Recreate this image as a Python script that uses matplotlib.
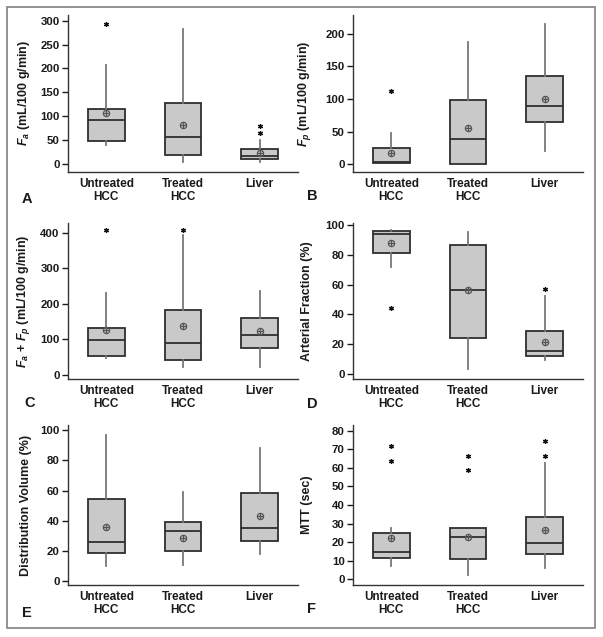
import matplotlib
matplotlib.use("Agg")
import matplotlib.pyplot as plt
from matplotlib.patches import Rectangle

plt.rcParams['font.family'] = ['Liberation Sans', 'DejaVu Sans']
plt.rcParams['font.weight'] = 'bold'
plt.rcParams['mathtext.fontset'] = 'custom'
plt.rcParams['mathtext.rm'] = 'Liberation Sans:bold'
plt.rcParams['mathtext.it'] = 'Liberation Sans:italic:bold'
plt.rcParams['mathtext.bf'] = 'Liberation Sans:bold'

categories = ["Untreated\nHCC", "Treated\nHCC", "Liver"]

# Panel A: Fa
a_low = [40, 4, 5]
a_q1 = [49, 19, 11]
a_med = [93, 57, 17]
a_q3 = [115, 128, 32]
a_high = [208, 283, 51]
a_mean = [107, 82, 23]
a_out = [[293], [], [64, 80]]

# Panel B: Fp
b_low = [1.5, 1, 20.5]
b_q1 = [1.5, 1, 64]
b_med = [3, 38, 90]
b_q3 = [24.5, 98, 135.5]
b_high = [48.6, 187, 215]
b_mean = [17, 55, 100]
b_out = [[113], [], []]

# Panel C: Fa + Fp
c_low = [47, 23, 23]
c_q1 = [54, 43, 76]
c_med = [99, 89, 113]
c_q3 = [132, 184, 160]
c_high = [231, 392, 235]
c_mean = [126, 139, 124]
c_out = [[407], [407], []]

# Panel D: Arterial fraction
d_low = [72, 3.3, 9]
d_q1 = [81, 24, 11.8]
d_med = [94, 56.7, 15.4]
d_q3 = [96, 86.8, 29]
d_high = [97, 95.5, 52.5]
d_mean = [88, 56.5, 21.6]
d_out = [[44], [], [57]]

# Panel E: Distribution volume
e_low = [9.9, 10.6, 18]
e_q1 = [18.9, 20.0, 26.9]
e_med = [25.8, 33, 35.2]
e_q3 = [54.6, 39.2, 58.6]
e_high = [96.7, 59, 88.5]
e_mean = [36, 28.4, 43.2]
e_out = [[], [], []]

# Panel F: MTT
f_low = [7.3, 2.3, 6.4]
f_q1 = [11.4, 11.1, 13.6]
f_med = [14.8, 22.9, 19.7]
f_q3 = [24.7, 27.9, 33.6]
f_high = [27.7, 27.9, 62.4]
f_mean = [22.5, 22.9, 26.3]
f_out = [[63.7, 71.6], [59, 66.5], [66.5, 74.4]]

W, H = 603, 637
fig = plt.figure(figsize=(W / 100, H / 100), dpi=100)

left_cols = [68, 353]
col_w = 230
rows = [(15, 172), (223, 379), (425, 585)]

panels = [
    dict(low=a_low, q1=a_q1, med=a_med, q3=a_q3, high=a_high, mean=a_mean, out=a_out,
         ylim=(-17, 312), yticks=[0, 50, 100, 150, 200, 250, 300],
         ylabel=r'$F_a$ (mL/100 g/min)', letter='A', pos=(0, 0)),
    dict(low=b_low, q1=b_q1, med=b_med, q3=b_q3, high=b_high, mean=b_mean, out=b_out,
         ylim=(-12, 229), yticks=[0, 50, 100, 150, 200],
         ylabel=r'$F_p$ (mL/100 g/min)', letter='B', pos=(0, 1)),
    dict(low=c_low, q1=c_q1, med=c_med, q3=c_q3, high=c_high, mean=c_mean, out=c_out,
         ylim=(-11, 427), yticks=[0, 100, 200, 300, 400],
         ylabel=r'$F_a$ + $F_p$ (mL/100 g/min)', letter='C', pos=(1, 0)),
    dict(low=d_low, q1=d_q1, med=d_med, q3=d_q3, high=d_high, mean=d_mean, out=d_out,
         ylim=(-3.5, 101.5), yticks=[0, 20, 40, 60, 80, 100],
         ylabel='Arterial Fraction (%)', letter='D', pos=(1, 1)),
    dict(low=e_low, q1=e_q1, med=e_med, q3=e_q3, high=e_high, mean=e_mean, out=e_out,
         ylim=(-2.5, 103.5), yticks=[0, 20, 40, 60, 80, 100],
         ylabel='Distribution Volume (%)', letter='E', pos=(2, 0)),
    dict(low=f_low, q1=f_q1, med=f_med, q3=f_q3, high=f_high, mean=f_mean, out=f_out,
         ylim=(-3, 83), yticks=[0, 10, 20, 30, 40, 50, 60, 70, 80],
         ylabel='MTT (sec)', letter='F', pos=(2, 1)),
]

letter_pos = {'A': (22, 203), 'B': (307, 200), 'C': (24, 407),
              'D': (307, 408), 'E': (22, 617), 'F': (307, 613)}

box_face = '#c9c9c9'
box_edge = '#2e2e2e'
whisk_col = '#777777'
mean_col = '#555555'

for p in panels:
    r, c = p['pos']
    top, bot = rows[r]
    x0 = left_cols[c]
    ax = fig.add_axes([x0 / W, 1 - bot / H, col_w / W, (bot - top) / H])
    stats = []
    for i in range(3):
        stats.append(dict(whislo=p['low'][i], q1=p['q1'][i], med=p['med'][i],
                          q3=p['q3'][i], whishi=p['high'][i], fliers=p['out'][i],
                          mean=p['mean'][i]))
    positions = [1, 2, 3]
    ax.bxp(stats, positions=positions, widths=0.48, patch_artist=True,
           showcaps=False, showmeans=False, showfliers=True,
           boxprops=dict(facecolor=box_face, edgecolor=box_edge, linewidth=1.3),
           whiskerprops=dict(color=whisk_col, linewidth=1.3),
           medianprops=dict(color=box_edge, linewidth=1.3),
           flierprops=dict(marker=(6, 2, 0), markerfacecolor='#111111',
                           markeredgecolor='#111111', markersize=3.6,
                           markeredgewidth=0.9))
    ax.plot(positions, p['mean'], linestyle='none', marker='o', markersize=4.5,
            markerfacecolor='none', markeredgecolor=mean_col, markeredgewidth=0.9, zorder=5)
    ax.plot(positions, p['mean'], linestyle='none', marker='+', markersize=4.5,
            markeredgecolor=mean_col, markeredgewidth=0.9, zorder=5)
    ax.set_xlim(0.5, 3.5)
    ax.set_ylim(*p['ylim'])
    ax.set_yticks(p['yticks'])
    ax.set_xticks(positions)
    ax.set_xticklabels(categories, fontsize=8.5, fontweight='bold')
    ax.tick_params(axis='x', length=0, pad=4, colors='#1a1a1a')
    ax.tick_params(axis='y', length=4, width=1, pad=2, labelsize=8.2, colors='#1a1a1a')
    for lab in ax.get_yticklabels():
        lab.set_fontweight('bold')
    for s in ['top', 'right']:
        ax.spines[s].set_visible(False)
    for s in ['left', 'bottom']:
        ax.spines[s].set_color('#333333')
        ax.spines[s].set_linewidth(1.0)
    ax.set_ylabel(p['ylabel'], fontsize=9, fontweight='bold', color='#1a1a1a')
    lx = 32 if c == 0 else 313
    ax.yaxis.set_label_coords((lx - x0) / col_w, 0.5)
    lp = letter_pos[p['letter']]
    fig.text(lp[0] / W, 1 - lp[1] / H, p['letter'], fontsize=10.5, fontweight='bold',
             ha='left', va='baseline', color='#1a1a1a')

fig.patches.append(Rectangle((7 / W, 1 - 628 / H), (595 - 7) / W, (628 - 7) / H,
                             transform=fig.transFigure, fill=False,
                             edgecolor='#8a8a8a', linewidth=1.3))

fig.savefig('out.png', dpi=100)
